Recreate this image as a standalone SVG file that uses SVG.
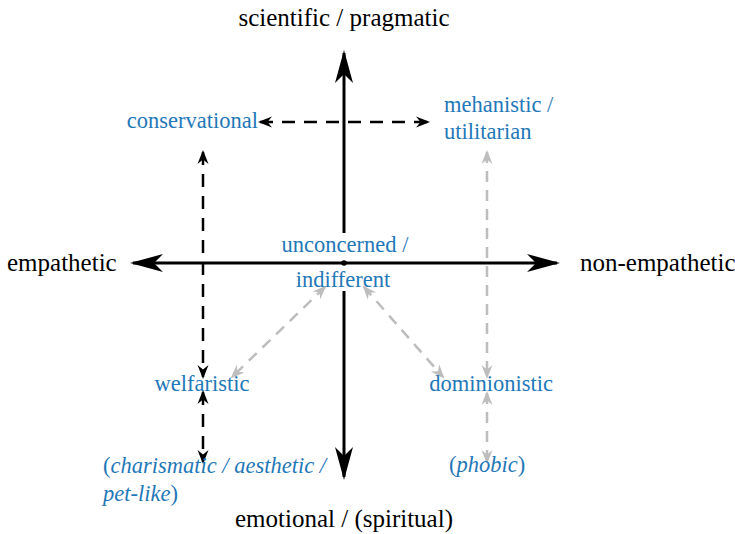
<svg xmlns="http://www.w3.org/2000/svg" width="735" height="534" viewBox="0 0 735 534">
<defs>
<style>
.ax{font-family:"Liberation Serif","Times New Roman",serif;font-size:25px;fill:#000}
.lb{font-family:"Liberation Serif","Times New Roman",serif;font-size:22.5px;fill:#1f78b8}
.it{font-style:italic}
.axis{stroke:#000;stroke-width:3;fill:none}
.dk{stroke:#000;stroke-width:2.5;fill:none;stroke-dasharray:13 9}
.gr{stroke:#bdbdbd;stroke-width:2.5;fill:none;stroke-dasharray:11 8}
</style>
<marker id="big" viewBox="-34 -10 36 20" refX="-3" refY="0" markerWidth="36" markerHeight="20" markerUnits="userSpaceOnUse" orient="auto-start-reverse">
<path d="M0,0 L-33,-9 L-24,0 L-33,9 Z" fill="#000"/>
</marker>
<marker id="sk" viewBox="-15 -7 16 14" refX="-2" refY="0" markerWidth="16" markerHeight="14" markerUnits="userSpaceOnUse" orient="auto-start-reverse">
<path d="M0,0 L-14,-5.5 L-9.5,0 L-14,5.5 Z" fill="#000"/>
</marker>
<marker id="sg" viewBox="-15 -7 16 14" refX="-2" refY="0" markerWidth="16" markerHeight="14" markerUnits="userSpaceOnUse" orient="auto-start-reverse">
<path d="M0,0 L-14,-5.5 L-9.5,0 L-14,5.5 Z" fill="#bdbdbd"/>
</marker>
</defs>
<rect width="735" height="534" fill="#fff"/>
<g id="connectors">
<line class="axis" x1="344" y1="53" x2="344" y2="233" marker-start="url(#big)"/>
<line class="axis" x1="344" y1="291" x2="344" y2="477" marker-end="url(#big)"/>
<line class="axis" x1="133" y1="263" x2="557" y2="263" marker-start="url(#big)" marker-end="url(#big)"/>
<circle cx="344" cy="263" r="2.8" fill="#000"/>
<line class="dk" x1="260" y1="122" x2="428" y2="122" marker-start="url(#sk)" marker-end="url(#sk)"/>
<line class="dk" x1="203" y1="152" x2="203" y2="377" marker-start="url(#sk)" marker-end="url(#sk)"/>
<line class="dk" x1="203" y1="392" x2="203" y2="462" marker-start="url(#sk)" marker-end="url(#sk)"/>
<line class="gr" x1="487" y1="152" x2="487" y2="377" marker-start="url(#sg)" marker-end="url(#sg)"/>
<line class="gr" x1="487" y1="393" x2="487" y2="462" marker-start="url(#sg)" marker-end="url(#sg)"/>
<line class="gr" x1="325" y1="287" x2="232" y2="377" marker-start="url(#sg)" marker-end="url(#sg)"/>
<line class="gr" x1="364" y1="287" x2="443" y2="377" marker-start="url(#sg)" marker-end="url(#sg)"/>
</g>
<g id="axis-top"><text class="ax" x="344" y="26" text-anchor="middle">scientific / pragmatic</text></g>
<g id="axis-left"><text class="ax" x="7" y="271">empathetic</text></g>
<g id="axis-right"><text class="ax" x="580" y="271">non-empathetic</text></g>
<g id="axis-bottom"><text class="ax" x="344" y="527" text-anchor="middle">emotional / (spiritual)</text></g>
<g id="conservational"><text class="lb" x="258" y="128" text-anchor="end">conservational</text></g>
<g id="mehanistic"><text class="lb" x="444" y="112">mehanistic /</text><text class="lb" x="444" y="139">utilitarian</text></g>
<g id="unconcerned"><text class="lb" x="345" y="252" text-anchor="middle">unconcerned /</text><text class="lb" x="343" y="287" text-anchor="middle">indifferent</text></g>
<g id="welfaristic"><text class="lb" x="202" y="391" text-anchor="middle">welfaristic</text></g>
<g id="dominionistic"><text class="lb" x="491" y="391" text-anchor="middle">dominionistic</text></g>
<g id="charismatic"><text class="lb" x="103" y="473">(<tspan class="it">charismatic / aesthetic /</tspan></text><text class="lb" x="103" y="501"><tspan class="it">pet-like</tspan>)</text></g>
<g id="phobic"><text class="lb" x="487" y="472" text-anchor="middle">(<tspan class="it">phobic</tspan>)</text></g>
</svg>
